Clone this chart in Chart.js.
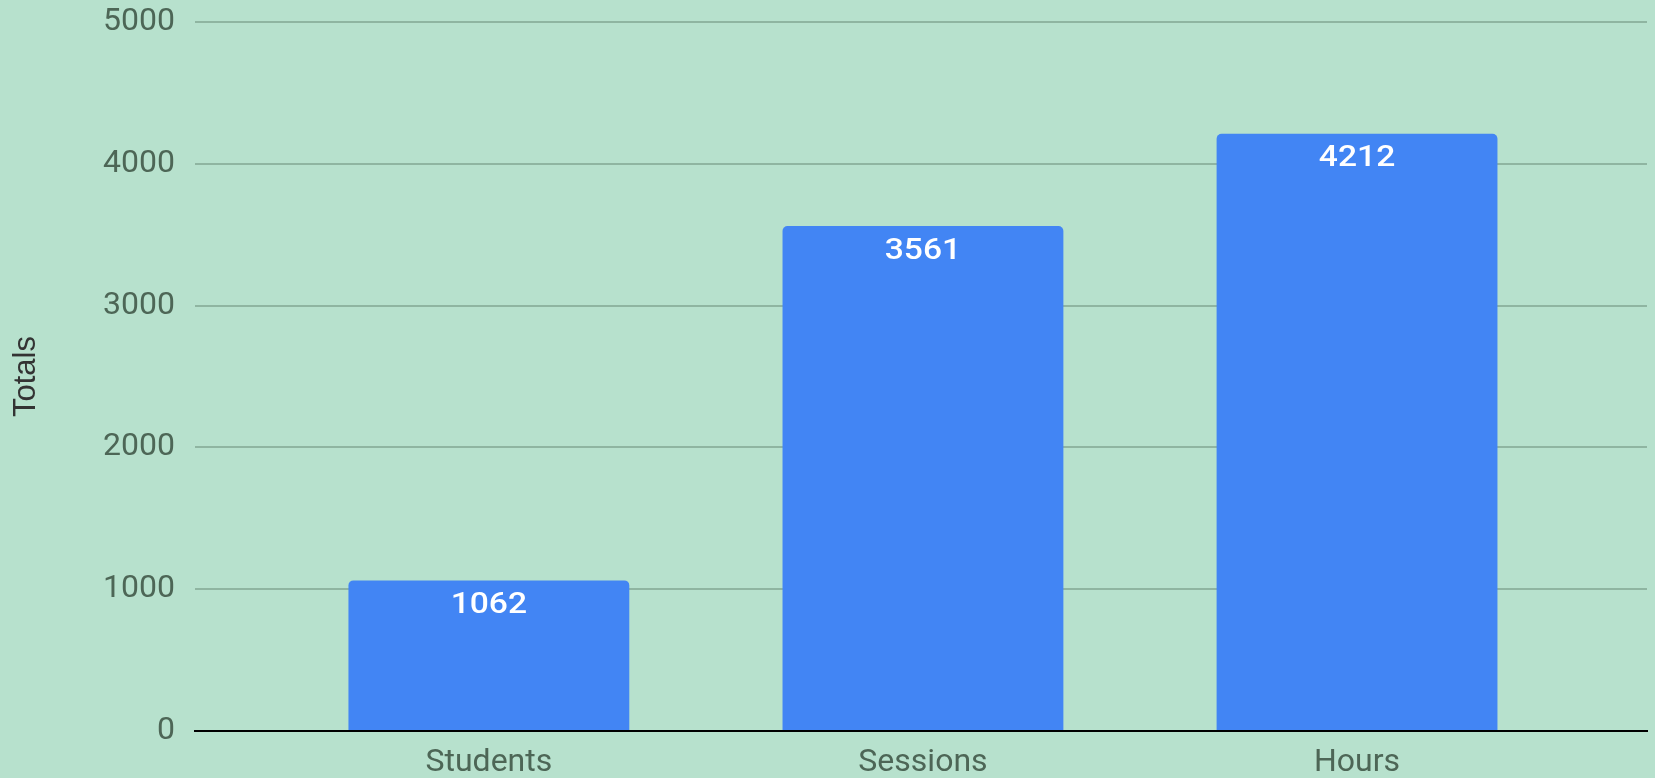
<!DOCTYPE html>
<html>
<head>
<meta charset="utf-8">
<script src="https://cdn.jsdelivr.net/npm/chart.js@4"></script>
<style>
  html, body { margin: 0; padding: 0; background: #b7e1cd; }
  #wrap { width: 1655px; height: 778px; }
</style>
</head>
<body>
<div id="wrap"><canvas id="totals"></canvas></div>
<script>
const categories = ['Students', 'Sessions', 'Hours'];
const totals = [1062, 3561, 4212];
const yTicks = [0, 1000, 2000, 3000, 4000, 5000];

// writes the value inside the top of each bar
const barValues = {
    id: 'barValues',
    afterDatasetsDraw(chart) {
        const ctx = chart.ctx;
        chart.getDatasetMeta(0).data.forEach((bar, i) => {
            ctx.save();
            ctx.translate(bar.x, bar.y + 25);
            ctx.scale(1.12, 1);
            ctx.fillStyle = '#ffffff';
            ctx.font = '500 30px Roboto';
            ctx.textAlign = 'center';
            ctx.textBaseline = 'middle';
            ctx.fillText(totals[i], 0, 0);
            ctx.restore();
        });
    }
};

const data = {
    datasets: [{
        label: 'Totals',
        data: totals.map((v, i) => ({ x: i, y: v })),
        backgroundColor: '#4285f4',
        borderRadius: { topLeft: 5, topRight: 5 },
        borderSkipped: 'bottom',
        categoryPercentage: 1,
        barPercentage: 0.647
    }]
};

const config = {
    type: 'bar',
    data: data,
    plugins: [barValues],
    options: {
        responsive: true,
        maintainAspectRatio: false,
        animation: false,
        layout: { padding: { top: 22, right: 8, left: 0, bottom: 0 } },
        plugins: { legend: { display: false }, tooltip: { enabled: false } },
        scales: {
            x: {
                type: 'linear',
                offset: false,
                min: -0.677,
                max: 2.668,
                afterBuildTicks: scale => { scale.ticks = categories.map((c, i) => ({ value: i })); },
                afterFit: scale => { scale.height = 47; },
                ticks: {
                    callback: v => categories[v],
                    color: '#4d6656',
                    font: { family: 'Roboto', size: 32 },
                    padding: 5,
                    maxRotation: 0
                },
                grid: { display: false },
                border: { color: '#000000', width: 2 }
            },
            y: {
                min: 0,
                max: 5000,
                afterBuildTicks: scale => { scale.ticks = yTicks.map(v => ({ value: v })); },
                afterFit: scale => { scale.width = 195; },
                ticks: {
                    callback: v => String(v),
                    color: '#4d6656',
                    font: { family: 'Roboto', size: 32, lineHeight: 0.6 },
                    padding: 0
                },
                grid: {
                    color: ctx => ctx.tick && ctx.tick.value === 0 ? '#000000' : '#8fb5a1',
                    lineWidth: 2,
                    drawTicks: true,
                    tickLength: 20,
                    tickColor: 'rgba(0,0,0,0)'
                },
                border: { display: false },
                title: {
                    display: true,
                    text: 'Totals',
                    color: '#333333',
                    font: { family: 'Liberation Sans', size: 31 },
                    padding: { top: 8, bottom: 0 }
                }
            }
        }
    }
};

new Chart(document.getElementById('totals'), config);
</script>
</body>
</html>
